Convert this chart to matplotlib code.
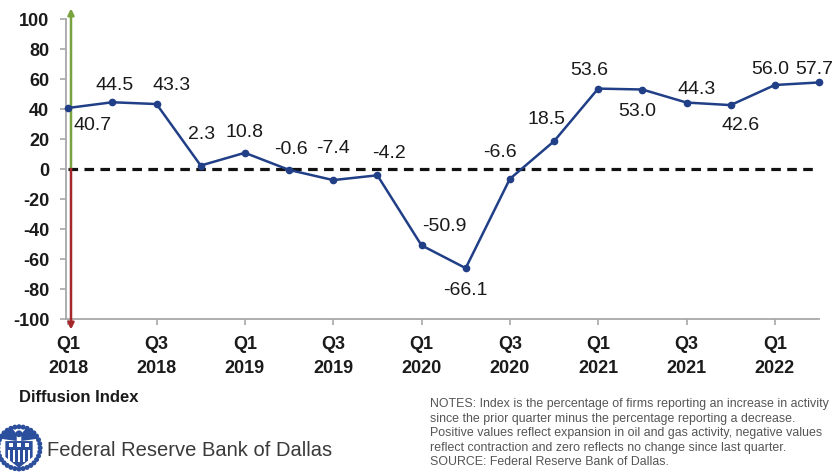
import numpy as np
import matplotlib.pyplot as plt
from matplotlib.patches import Circle, Polygon, Rectangle

# Dallas Fed Energy Survey - business activity index, quarterly
quarters = ['Q1\n2018', 'Q2\n2018', 'Q3\n2018', 'Q4\n2018',
            'Q1\n2019', 'Q2\n2019', 'Q3\n2019', 'Q4\n2019',
            'Q1\n2020', 'Q2\n2020', 'Q3\n2020', 'Q4\n2020',
            'Q1\n2021', 'Q2\n2021', 'Q3\n2021', 'Q4\n2021',
            'Q1\n2022', 'Q2\n2022']
values = [40.7, 44.5, 43.3, 2.3, 10.8, -0.6, -7.4, -4.2, -50.9,
          -66.1, -6.6, 18.5, 53.6, 53.0, 44.3, 42.6, 56.0, 57.7]
yticks = [100, 80, 60, 40, 20, 0, -20, -40, -60, -80, -100]

notes = ("NOTES: Index is the percentage of firms reporting an increase in activity\n"
         "since the prior quarter minus the percentage reporting a decrease.\n"
         "Positive values reflect expansion in oil and gas activity, negative values\n"
         "reflect contraction and zero reflects no change since last quarter.\n"
         "SOURCE: Federal Reserve Bank of Dallas.")

# label offsets in pixels (dx, dy) from each point
label_offsets = [(24, -18), (2, 17), (15, 19), (1, 31), (0, 20), (2, 20),
                 (0, 32), (12, 22), (23, 19), (0, -22), (-10, 26), (-8, 22),
                 (-9, 18), (-5, -22), (10, 13), (10, -20), (-5, 16), (-5, 13)]

NAVY = '#213f87'
GREEN = '#79a33e'
RED = '#a3272b'
GRAY = '#a8a8a8'

plt.rcParams['font.family'] = ['Liberation Sans', 'DejaVu Sans']

W, H = 838, 474
fig = plt.figure(figsize=(W / 100, H / 100), dpi=100)
ax = fig.add_axes([66 / W, (H - 319) / H, 753 / W, 300 / H])

x = np.arange(len(values))
ax.hlines(0, 0, len(values) - 1, colors='#111111', linestyles=(0, (3, 2)),
          lw=2.3, zorder=2)
ax.plot(x, values, color=NAVY, lw=1.8, marker='o', ms=4.5, zorder=4,
        clip_on=False)

for i, v in enumerate(values):
    dx, dy = label_offsets[i]
    ax.annotate(f'{v:.1f}', (i, v), xytext=(dx * 0.72, dy * 0.72),
                textcoords='offset points', ha='center', va='center',
                fontsize=14, color='#1a1a1a')

# green/red arrows along the y axis
ax.annotate('', xy=(0.063, 107), xytext=(0.063, 0),
            arrowprops=dict(arrowstyle='-|>', color=GREEN, lw=1.8,
                            mutation_scale=9, shrinkA=0, shrinkB=0),
            annotation_clip=False, zorder=3)
ax.annotate('', xy=(0.063, -107), xytext=(0.063, 0),
            arrowprops=dict(arrowstyle='-|>', color=RED, lw=1.8,
                            mutation_scale=9, shrinkA=0, shrinkB=0),
            annotation_clip=False, zorder=3)

ax.set_xlim(-0.05, len(values) - 1)
ax.set_ylim(-100, 100)
ax.set_yticks(yticks)
ax.set_yticklabels([str(t) for t in yticks])
ax.set_xticks(x[::2])
ax.set_xticklabels(quarters[::2], linespacing=1.6)

for s in ['top', 'right']:
    ax.spines[s].set_visible(False)
for s in ['left', 'bottom']:
    ax.spines[s].set_color(GRAY)
    ax.spines[s].set_linewidth(1.3)
ax.tick_params(axis='both', colors=GRAY, length=4, width=1.2,
               labelcolor='#1a1a1a', labelsize=13)
ax.tick_params(axis='y', pad=8)
ax.tick_params(axis='x', pad=8)
for lbl in ax.get_xticklabels() + ax.get_yticklabels():
    lbl.set_fontweight('bold')

fig.text(19 / W, 1 - 397 / H, 'Diffusion Index', fontsize=12,
         fontweight='bold', va='center', color='#1a1a1a')
fig.text(47 / W, 1 - 450 / H, 'Federal Reserve Bank of Dallas',
         fontsize=14.5, va='center', color='#3a3a3a')
fig.text(430 / W, 1 - 398 / H, notes, fontsize=8.95, va='top',
         linespacing=1.29, color='#555555')

# small seal logo
lg = fig.add_axes([-6 / W, 0, 50 / W, 50 / H])
lg.set_xlim(-1.1, 1.1)
lg.set_ylim(-1.15, 1.05)
lg.set_aspect('equal')
lg.axis('off')
SEAL = '#2b4f9c'
ang = np.linspace(0, 2 * np.pi, 32, endpoint=False)
for a in ang:
    lg.add_patch(Circle((0.93 * np.cos(a), 0.93 * np.sin(a)), 0.11,
                        color=SEAL, lw=0))
# wings
lg.add_patch(Polygon([(-0.1, 0.3), (-0.8, 0.4), (-0.72, 0.72), (-0.3, 0.85),
                      (-0.1, 0.62)], color=SEAL, lw=0))
lg.add_patch(Polygon([(0.1, 0.3), (0.8, 0.4), (0.72, 0.72), (0.3, 0.85),
                      (0.1, 0.62)], color=SEAL, lw=0))
lg.add_patch(Circle((0, 0.62), 0.15, color=SEAL, lw=0))
# shield
lg.add_patch(Polygon([(-0.6, 0.3), (0.6, 0.3), (0.6, -0.4), (0, -0.88),
                      (-0.6, -0.4)], color=SEAL, lw=0))
for sx in [-0.34, 0, 0.34]:
    lg.add_patch(Rectangle((sx - 0.09, 0.04), 0.18, 0.16, color='white', lw=0))
for sx in np.linspace(-0.44, 0.44, 5):
    lg.add_patch(Rectangle((sx - 0.045, -0.6), 0.09, 0.52, color='white', lw=0))

fig.savefig('out.png', dpi=100)
